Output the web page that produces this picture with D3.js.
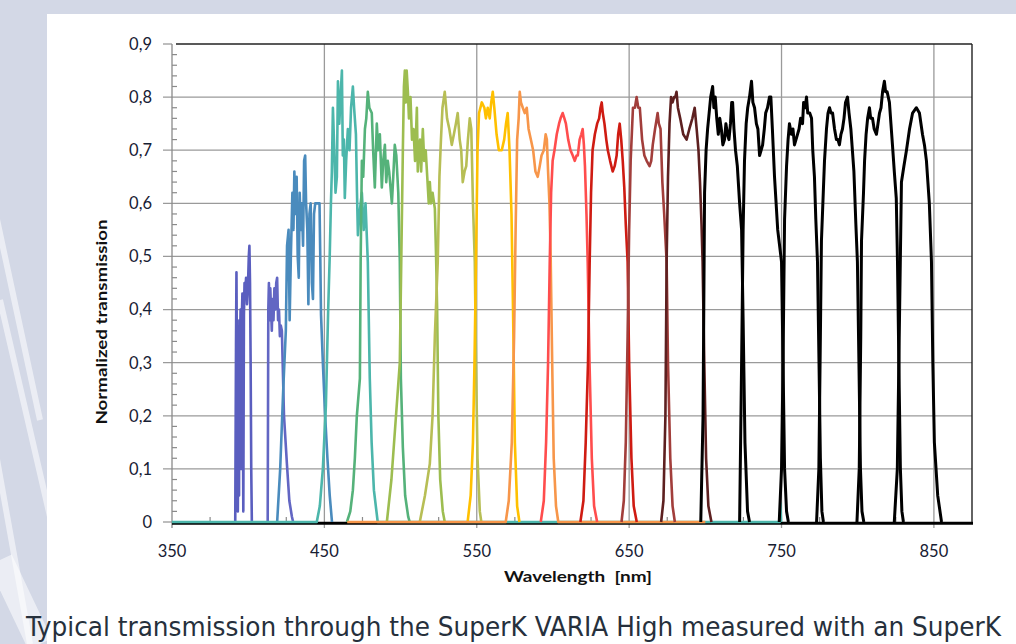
<!DOCTYPE html>
<html>
<head>
<meta charset="utf-8">
<script src="https://cdn.jsdelivr.net/npm/d3@7"></script>
<style>
  html, body { margin: 0; padding: 0; background: #d3d8e6; }
  svg { display: block; }
</style>
</head>
<body>
<svg id="mainsvg" width="1016" height="644"></svg>
<script>
// filter passbands, [wavelength nm, normalized transmission]
var indigo1 = [[391.5,0],[392,0.33],[392.3,0.47],[392.6,0.3],[393,0.35],[393.2,0.02],[393.4,0.1],[393.8,0.33],[394,0.05],[394.2,0.38],[394.6,0.32],[395,0.4],[395.3,0.1],[395.6,0.36],[396.2,0.43],[396.8,0.02],[397.2,0.39],[397.6,0.45],[398,0.42],[398.6,0.46],[399.2,0.41],[399.8,0.44],[400.4,0.5],[400.8,0.52],[401.2,0.45],[401.6,0.3],[402,0.1],[402.4,0]];
var indigo2 = [[412.8,0],[413.2,0.4],[413.6,0.45],[414,0.38],[414.5,0.44],[415,0.4],[415.5,0.36],[416,0.42],[416.6,0.38],[417.2,0.44],[417.8,0.4],[418.4,0.45],[419,0.46],[419.6,0.38],[420.2,0.4],[420.8,0.35],[421.4,0.37],[422.1,0.36],[423.5,0.2],[425.4,0.11],[427,0.04],[428.7,0.01],[429.5,0]];
var steel = [[419,0],[421,0.1],[423,0.25],[424.7,0.36],[425.5,0.52],[426.5,0.55],[427.2,0.38],[428,0.5],[429,0.62],[429.7,0.55],[430.3,0.66],[431,0.58],[431.8,0.65],[432.5,0.5],[433.2,0.46],[433.8,0.62],[434.5,0.55],[435.2,0.6],[436,0.52],[436.7,0.68],[437.4,0.69],[438,0.6],[438.8,0.55],[439.5,0.41],[440.2,0.58],[441,0.6],[441.8,0.45],[442.5,0.42],[443.2,0.58],[444,0.6],[445,0.6],[446,0.6],[446.8,0.6],[447.3,0.5],[447.8,0.39],[449,0.3],[450.5,0.2],[452,0.12],[453.5,0.05],[455,0]];
var teal = [[350,0],[445,0],[447,0.03],[449,0.1],[451,0.22],[452.5,0.4],[453.5,0.5],[454.3,0.6],[454.9,0.66],[455.6,0.78],[456.5,0.7],[457.3,0.62],[458.2,0.65],[458.9,0.83],[459.8,0.75],[460.6,0.8],[461.5,0.85],[462.1,0.69],[462.8,0.72],[463.4,0.61],[464.3,0.68],[465.4,0.74],[466.5,0.7],[467.5,0.78],[468.7,0.82],[469.5,0.78],[470.7,0.73],[471.4,0.62],[472,0.54],[473,0.58],[474.6,0.62],[475.8,0.55],[477,0.6],[478.5,0.49],[479.8,0.27],[481,0.15],[482.5,0.06],[485,0],[748.8,0],[749.3,0.035],[749.7,0]];
var green = [[464.8,0],[467,0.02],[468.7,0.06],[470,0.12],[471.3,0.2],[473.3,0.27],[473.8,0.49],[474.6,0.68],[475.5,0.65],[476.6,0.74],[477.5,0.76],[478.5,0.81],[479.5,0.78],[481.1,0.77],[482,0.7],[483.1,0.63],[484.4,0.75],[485.3,0.7],[486.4,0.73],[487.7,0.63],[488.6,0.68],[489.7,0.71],[490.6,0.64],[491.6,0.68],[492.5,0.66],[494.3,0.6],[495.2,0.65],[496.2,0.71],[497.2,0.69],[498.5,0.62],[499.5,0.49],[500.2,0.27],[501.5,0.14],[503,0.05],[505,0.01],[506,0]];
var yellowGreen = [[491,0],[494,0.08],[497,0.2],[499.5,0.3],[500.5,0.5],[501.5,0.7],[502.2,0.82],[502.8,0.85],[503.4,0.79],[504,0.85],[504.8,0.81],[505.5,0.76],[506.5,0.8],[507.5,0.72],[508.5,0.74],[509.5,0.68],[510.7,0.78],[511.3,0.66],[512,0.7],[512.8,0.72],[513.5,0.66],[514.6,0.74],[515.5,0.68],[516.5,0.7],[517.5,0.65],[518.5,0.6],[519.2,0.64],[520,0.6],[521,0.62],[522.5,0.59],[523.3,0.5],[524,0.4],[524.8,0.2],[526,0.08],[527.7,0.02],[529,0]];
var olive = [[512.6,0],[516,0.05],[519.2,0.11],[521,0.2],[522.5,0.35],[524.4,0.49],[525.5,0.65],[526.5,0.72],[527.5,0.78],[529,0.81],[530.5,0.76],[532,0.74],[533.6,0.71],[535,0.73],[536.3,0.75],[537.5,0.77],[538.8,0.72],[539.8,0.7],[540.8,0.64],[542,0.66],[543.1,0.67],[544.2,0.72],[545.4,0.76],[546.4,0.74],[547.5,0.6],[548.7,0.49],[549.5,0.3],[550.5,0.12],[552,0.02],[553,0]];
var gold = [[544,0],[546,0.05],[547.5,0.15],[548.5,0.3],[549.5,0.49],[550.5,0.7],[551.5,0.77],[553.3,0.79],[555,0.78],[556,0.76],[557.2,0.78],[558.5,0.76],[559.5,0.79],[560.5,0.81],[561.5,0.78],[563,0.73],[564.5,0.7],[566.4,0.7],[568,0.72],[569.2,0.75],[570.3,0.77],[571.5,0.7],[572.8,0.58],[573.8,0.4],[575,0.15],[576.5,0.03],[578,0]];
var orange = [[465,0],[569,0],[571,0.04],[573,0.15],[574.5,0.35],[575.5,0.55],[576.5,0.72],[577.5,0.76],[578.2,0.81],[579,0.79],[580.2,0.78],[581.5,0.77],[582.8,0.78],[584,0.74],[585.5,0.72],[587,0.7],[588.5,0.66],[590,0.65],[591.3,0.67],[592.5,0.69],[594,0.7],[595.2,0.73],[596,0.72],[596.8,0.66],[597.7,0.6],[598.5,0.5],[599.5,0.3],[600.5,0.12],[602,0.03],[603.5,0],[700,0]];
var coral = [[592,0],[594,0.04],[595.5,0.15],[596.8,0.3],[597.9,0.49],[598.8,0.62],[599.8,0.68],[601,0.7],[602.5,0.73],[604,0.75],[605,0.76],[606.4,0.77],[607.5,0.76],[608.5,0.75],[610,0.72],[611.5,0.7],[613,0.69],[614.3,0.68],[615.5,0.69],[616.3,0.69],[617.5,0.72],[618.6,0.73],[619.5,0.74],[620.3,0.71],[621,0.67],[622,0.58],[622.8,0.49],[624,0.3],[625.5,0.12],[627,0.03],[629,0]];
var red = [[618,0],[620,0.04],[621.5,0.15],[623,0.3],[624.1,0.49],[625,0.62],[626,0.7],[627.5,0.73],[629,0.75],[630.3,0.76],[631.2,0.78],[632,0.79],[632.7,0.77],[633.8,0.75],[635,0.72],[636,0.7],[637.5,0.68],[639.2,0.66],[640.5,0.67],[641.8,0.69],[642.8,0.73],[643.8,0.75],[644.8,0.72],[645.8,0.68],[646.8,0.63],[647.8,0.56],[649,0.49],[650,0.3],[651.5,0.12],[653,0.03],[655,0]];
var brownRed = [[645,0],[646.5,0.04],[647.8,0.15],[649,0.35],[650,0.55],[651,0.68],[652.5,0.78],[653.8,0.78],[654.9,0.8],[656,0.78],[657,0.78],[658.5,0.72],[660,0.69],[661.5,0.68],[663.4,0.67],[664.5,0.68],[665.5,0.71],[667,0.74],[668.7,0.77],[669.5,0.75],[670.6,0.74],[671.8,0.64],[673,0.58],[674.6,0.49],[675.5,0.3],[677,0.12],[678.5,0.03],[680,0]];
var darkBrown = [[671,0],[672.5,0.04],[673.8,0.2],[674.6,0.49],[675.5,0.65],[676.5,0.75],[677.5,0.8],[678.5,0.79],[679.5,0.8],[680.3,0.8],[681.1,0.81],[682,0.78],[683.5,0.76],[685.5,0.73],[687.7,0.72],[689.5,0.74],[691.5,0.76],[693,0.78],[694.3,0.74],[695.5,0.7],[696.5,0.64],[697.5,0.56],[698.2,0.49],[699.3,0.3],[700.5,0.12],[702,0.03],[704,0]];
var black1 = [[697,0],[698.5,0.2],[699.5,0.62],[700.5,0.7],[701.5,0.74],[702.5,0.77],[703.5,0.8],[704.8,0.82],[705.6,0.78],[706.5,0.8],[707.5,0.76],[708.5,0.73],[709.5,0.76],[710.5,0.74],[711.5,0.71],[712.6,0.72],[713.5,0.75],[714.5,0.73],[715.5,0.72],[716.5,0.75],[717.3,0.79],[717.9,0.79],[718.8,0.74],[719.8,0.7],[721,0.67],[722.5,0.6],[723.8,0.55],[724.8,0.38],[726,0.15],[727.7,0.02],[729,0]];
var black2 = [[722.5,0],[723.8,0.3],[724.8,0.55],[725.7,0.68],[726.8,0.75],[727.8,0.78],[729,0.8],[730.3,0.83],[731.2,0.79],[732.3,0.78],[733.5,0.75],[734.5,0.74],[735.6,0.69],[736.6,0.7],[737.6,0.71],[738.7,0.74],[739.6,0.77],[740.8,0.78],[742.1,0.8],[743,0.8],[744,0.74],[745.4,0.65],[747.5,0.55],[750,0.49],[751,0.3],[752,0.1],[753.3,0.02],[754.5,0]];
var black3 = [[748.5,0],[750,0.1],[751,0.3],[752,0.57],[753.3,0.67],[754.3,0.72],[755.2,0.75],[756.5,0.73],[757.5,0.74],[758.5,0.71],[759.5,0.72],[760.5,0.73],[761.5,0.74],[762.5,0.76],[763.8,0.75],[764.5,0.79],[765.5,0.78],[766.4,0.8],[767.2,0.77],[768.5,0.77],[769.7,0.76],[770.5,0.7],[771.6,0.65],[772.5,0.57],[773.6,0.49],[774.6,0.3],[775.5,0.12],[776.5,0.02],[777.5,0]];
var black4 = [[773,0],[774.5,0.1],[775.5,0.35],[776.2,0.53],[777.4,0.62],[778.2,0.68],[779.5,0.74],[780.5,0.77],[781.5,0.78],[782.5,0.77],[783.5,0.77],[784.8,0.74],[786,0.72],[787,0.72],[788,0.71],[789,0.73],[790,0.74],[791,0.76],[792,0.79],[793.3,0.8],[794.3,0.77],[795.5,0.74],[796.5,0.7],[797.5,0.66],[798.8,0.56],[799.8,0.49],[800.8,0.3],[801.8,0.1],[802.8,0.02],[804,0]];
var black5 = [[799.5,0],[801,0.1],[802,0.35],[802.5,0.53],[803.8,0.62],[804.5,0.68],[805.5,0.73],[806.5,0.76],[807.7,0.78],[808.5,0.76],[809.7,0.76],[810.8,0.74],[812.3,0.73],[813.3,0.75],[814.3,0.77],[815.3,0.78],[816.3,0.81],[817.5,0.83],[818.3,0.81],[819.3,0.81],[820.8,0.79],[821.8,0.75],[822.8,0.71],[824,0.66],[825.3,0.61],[826.1,0.49],[827,0.3],[828,0.1],[829,0.02],[830,0]];
var black6 = [[824,0],[826,0.1],[827.5,0.4],[828.7,0.64],[830.3,0.67],[832,0.7],[834,0.74],[836,0.77],[838.5,0.78],[840.5,0.77],[842.5,0.73],[843.8,0.71],[845.1,0.68],[847,0.6],[848.4,0.49],[849.3,0.3],[850.3,0.15],[852.5,0.05],[855,0]];

var bands = [indigo1, indigo2, steel, teal, green, yellowGreen, olive, gold, orange, coral, red, brownRed, darkBrown, black1, black2, black3, black4, black5, black6];
var bandColors = ["#5a5ebf", "#6266c3", "#4a8bbd", "#4cb6ab", "#55b27a", "#9dbd50", "#b7be55", "#ffc000", "#f7964a", "#ff4d4d", "#cf1b12", "#a23e3b", "#5d2020", "#000", "#000", "#000", "#000", "#000", "#000"];

var xTicks = [350, 450, 550, 650, 750, 850];
var yTicks = [0, 0.1, 0.2, 0.3, 0.4, 0.5, 0.6, 0.7, 0.8, 0.9];

var svg = d3.select("#mainsvg");

// page background streaks and white panel
var bg = svg.append("g");
bg.append("rect").attr("width", 1016).attr("height", 644).attr("fill", "#d3d8e6");
[[-20, 140, 40, 420, 6], [0, 300, 60, 560, 6], [-10, 420, 30, 644, 6], [0, 560, 40, 644, 26]].forEach(function (s) {
  bg.append("path")
    .attr("d", "M" + s[0] + "," + s[1] + "L" + s[2] + "," + s[3])
    .attr("stroke", "#ffffff")
    .attr("stroke-opacity", 0.55)
    .attr("stroke-width", s[4])
    .attr("fill", "none");
});
bg.append("rect").attr("x", 47).attr("y", 14).attr("width", 969).attr("height", 630).attr("fill", "#fff");

var x = d3.scaleLinear().domain([350, 875]).range([172, 972]);
var y = d3.scaleLinear().domain([0, 0.9]).range([522, 44]);

var grid = svg.append("g");
grid.selectAll("line.h")
  .data(yTicks.slice(1, -1))
  .enter()
  .append("line")
  .attr("x1", 163).attr("x2", 972)
  .attr("y1", function (d) { return y(d); })
  .attr("y2", function (d) { return y(d); })
  .attr("stroke", "#9a9a9a").attr("stroke-width", 1.3);
grid.selectAll("line.v")
  .data(xTicks.slice(1))
  .enter()
  .append("line")
  .attr("x1", function (d) { return x(d); })
  .attr("x2", function (d) { return x(d); })
  .attr("y1", 44).attr("y2", 528)
  .attr("stroke", "#9a9a9a").attr("stroke-width", 1.3);

// minor ticks
var minorY = d3.range(0, 0.9, 0.02).filter(function (d) { return Math.round(d * 100) % 10 !== 0; });
grid.selectAll("line.my")
  .data(minorY)
  .enter()
  .append("line")
  .attr("x1", 172).attr("x2", 177)
  .attr("y1", function (d) { return y(d); })
  .attr("y2", function (d) { return y(d); })
  .attr("stroke", "#8a8a8a").attr("stroke-width", 1.2);
var minorX = d3.range(375, 875, 50);
grid.selectAll("line.mx")
  .data(minorX)
  .enter()
  .append("line")
  .attr("x1", function (d) { return x(d); })
  .attr("x2", function (d) { return x(d); })
  .attr("y1", 517).attr("y2", 522)
  .attr("stroke", "#8a8a8a").attr("stroke-width", 1.2);
grid.append("line").attr("x1", 163).attr("x2", 172).attr("y1", y(0.9)).attr("y2", y(0.9)).attr("stroke", "#9a9a9a").attr("stroke-width", 1.3);
grid.append("line").attr("x1", 163).attr("x2", 172).attr("y1", y(0)).attr("y2", y(0)).attr("stroke", "#9a9a9a").attr("stroke-width", 1.3);
grid.append("line").attr("x1", x(350)).attr("x2", x(350)).attr("y1", 44).attr("y2", 528).attr("stroke", "#8a8a8a").attr("stroke-width", 1.3);

// axis base line sits just under the zero level so the teal tail shows
svg.append("line").attr("x1", 172).attr("x2", 973).attr("y1", y(0) + 1.2).attr("y2", y(0) + 1.2).attr("stroke", "#000").attr("stroke-width", 3);

var line = d3.line()
  .x(function (d) { return x(d[0]); })
  .y(function (d) { return y(d[1]); });

var plot = svg.append("g");
plot.selectAll("path")
  .data(bands)
  .enter()
  .append("path")
  .attr("d", line)
  .attr("fill", "none")
  .attr("stroke", function (d, i) { return bandColors[i]; })
  .attr("stroke-width", function (d, i) { return bandColors[i] === "#000" ? 3 : 2.6; })
  .attr("stroke-linejoin", "round");

// frame
svg.append("line").attr("x1", 176).attr("x2", 972).attr("y1", y(0.9)).attr("y2", y(0.9)).attr("stroke", "#222").attr("stroke-width", 1.4);
svg.append("line").attr("x1", 972).attr("x2", 972).attr("y1", y(0.9)).attr("y2", y(0)).attr("stroke", "#222").attr("stroke-width", 1.4);

var font = "Lato, 'Open Sans', sans-serif";
var labelColor = "#172033";
svg.append("g").selectAll("text")
  .data(yTicks)
  .enter()
  .append("text")
  .attr("x", 152)
  .attr("y", function (d) { return y(d); })
  .attr("dy", "0.36em")
  .attr("text-anchor", "end")
  .attr("font-family", font)
  .attr("font-size", 16.5)
  .attr("fill", labelColor)
  .text(function (d) { return d === 0 ? "0" : d3.format(".1f")(d).replace(".", ","); });

svg.append("g").selectAll("text")
  .data(xTicks)
  .enter()
  .append("text")
  .attr("x", function (d) { return x(d); })
  .attr("y", 557)
  .attr("text-anchor", "middle")
  .attr("font-family", font)
  .attr("font-size", 16.5)
  .attr("fill", labelColor)
  .text(function (d) { return d; });

svg.append("text")
  .attr("transform", "translate(107,322) rotate(-90)")
  .attr("text-anchor", "middle")
  .attr("font-family", font)
  .attr("font-weight", "bold")
  .attr("font-size", 16)
  .attr("fill", "#111")
  .attr("textLength", 205)
  .attr("lengthAdjust", "spacingAndGlyphs")
  .text("Normalized transmission");

svg.append("text")
  .attr("x", 578)
  .attr("y", 582)
  .attr("text-anchor", "middle")
  .attr("font-family", font)
  .attr("font-weight", "bold")
  .attr("font-size", 16)
  .attr("fill", "#111")
  .attr("xml:space", "preserve")
  .attr("textLength", 148)
  .attr("lengthAdjust", "spacingAndGlyphs")
  .text("Wavelength  [nm]");

svg.append("text")
  .attr("x", 26)
  .attr("y", 636)
  .attr("font-family", "'Liberation Sans Narrow', 'DejaVu Sans Condensed', sans-serif")
  .attr("font-size", 27)
  .attr("fill", "#26303c")
  .attr("textLength", 975)
  .attr("lengthAdjust", "spacingAndGlyphs")
  .text("Typical transmission through the SuperK VARIA High measured with an SuperK");
</script>
</body>
</html>
